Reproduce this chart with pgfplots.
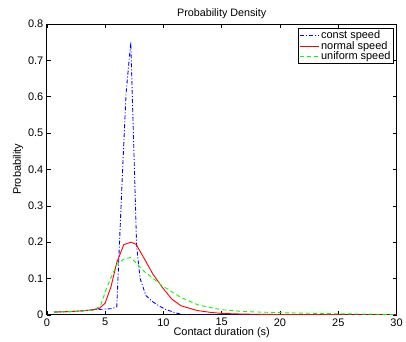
\documentclass[border=0pt]{standalone}
\usepackage{fontspec}
\setmainfont{Liberation Sans}
\usepackage{pgfplots}
\pgfplotsset{compat=1.18}
\begin{document}
\begin{tikzpicture}
\begin{axis}[
  name=ax,
  width=351pt, height=292pt, scale only axis,
  xmin=0, xmax=30, ymin=0, ymax=0.8,
  xtick={0,5,...,30}, ytick={0,0.1,...,0.8},
  yticklabels={0,0.1,0.2,0.3,0.4,0.5,0.6,0.7,0.8},
  tick align=inside, tick pos=both,
  major tick length=4pt,
  tick style={black, line width=0.5pt},
  axis line style={black, line width=0.8pt},
  /pgf/number format/assume math mode=true,
  ticklabel style={font=\fontsize{11}{12}\selectfont},
  label style={font=\fontsize{11}{12}\selectfont},
  title style={font=\fontsize{10.8}{12}\selectfont, yshift=-4pt},
  title={Probability Density},
  xlabel={Contact duration (s)},
  ylabel={Probability},
  xlabel style={yshift=5pt},
  ylabel style={yshift=-2pt},
  legend style={at={(0.991,0.986)}, anchor=north east, font=\fontsize{11}{11}\selectfont,
    draw=black, line width=0.8pt, inner sep=1pt, row sep=-2pt,
    nodes={inner sep=1.5pt}},
  legend cell align=left,
  legend image code/.code={\draw[#1, line width=0.9pt] (0pt,0pt) -- (19pt,0pt);},
]
\addplot[blue, line width=0.9pt, dash pattern=on 4pt off 2pt on 1pt off 2pt] coordinates {
(0.6,0.008)(1,0.008)(2,0.009)(3,0.011)(4,0.014)(4.5,0.015)(5,0.016)(5.5,0.017)(6.0,0.022)
(6.5,0.40)(6.8,0.61)(7.2,0.75)(7.7,0.19)(8.0,0.10)(8.5,0.053)(9,0.038)(9.6,0.025)
(10.2,0.015)(11,0.006)(11.5,0.002)(12,0)(30,0)};
\addlegendentry{const speed}
\addplot[red, line width=0.9pt] coordinates {
(0.6,0.008)(2,0.009)(3,0.011)(4,0.014)(4.5,0.018)(5.0,0.032)(5.5,0.077)(6.0,0.144)
(6.6,0.193)(7.2,0.2)(7.65,0.194)(8.3,0.158)(9.1,0.112)(9.9,0.076)(10.7,0.044)(11.5,0.025)
(12.9,0.012)(14,0.007)(15,0.004)(17,0.002)(20,0.001)(30,0)};
\addlegendentry{normal speed}
\addplot[green, line width=0.9pt, dash pattern=on 4pt off 3pt] coordinates {
(0.6,0.008)(2,0.009)(3,0.011)(4,0.013)(4.6,0.025)(5.2,0.08)(6.0,0.138)(6.6,0.153)
(7.2,0.158)(8.3,0.121)(9.9,0.08)(11.5,0.048)(13,0.027)(15,0.014)(17,0.009)(20,0.006)
(25,0.003)(30,0.001)};
\addlegendentry{uniform speed}
\end{axis}
\path (ax.south west) ++(-47pt,-27pt) rectangle ++(406pt,343pt);
\end{tikzpicture}
\end{document}
